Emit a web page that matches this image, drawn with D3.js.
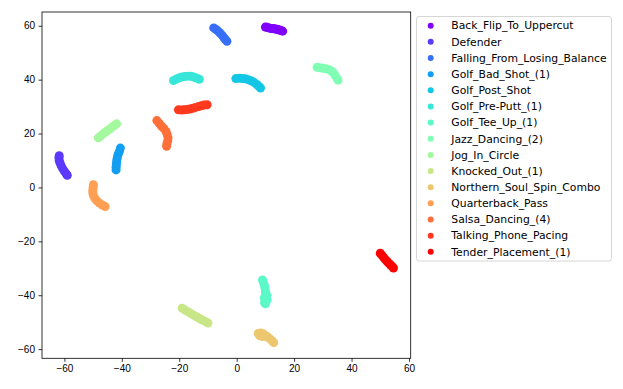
<!doctype html>
<html>
<head>
<meta charset="utf-8">
<script src="https://cdnjs.cloudflare.com/ajax/libs/d3/7.8.5/d3.min.js"></script>
<style>
  body { margin: 0; background: #fff; }
  svg { font-family: "DejaVu Sans", sans-serif; }
  .axis text { font-size: 10px; fill: #000; }
  .axis path, .axis line { stroke: #000; stroke-width: 0.8; }
  .legend text { font-size: 10.8px; fill: #000; }
</style>
</head>
<body>
<svg width="623" height="389"></svg>
<script>
// categories, in legend order
var categories = [
  "Back_Flip_To_Uppercut", "Defender", "Falling_From_Losing_Balance",
  "Golf_Bad_Shot_(1)", "Golf_Post_Shot", "Golf_Pre-Putt_(1)", "Golf_Tee_Up_(1)",
  "Jazz_Dancing_(2)", "Jog_In_Circle", "Knocked_Out_(1)", "Northern_Soul_Spin_Combo",
  "Quarterback_Pass", "Salsa_Dancing_(4)", "Talking_Phone_Pacing", "Tender_Placement_(1)"
];

// embedding points [x, y] per category
var backFlip = [[10,59.5],[10.5,59.4],[11,59.3],[11.5,59.1],[12,59],[12.5,59],[13,58.9],[13.5,58.8],[14,58.7],[14.5,58.5],[15,58.4],[15.5,58.2],[16,58]];
var defender = [[-61.8,11.8],[-61.9,11],[-61.8,10],[-61.5,9],[-61.1,8],[-60.6,7],[-60,6],[-59.3,5],[-59,4.5]];
var falling = [[-8,59.2],[-7.3,58.7],[-6.6,58.1],[-5.9,57.4],[-5.2,56.6],[-4.6,55.8],[-4,55],[-3.4,54.2]];
var golfBad = [[-40.5,14.6],[-40.8,13.5],[-41.2,12.5],[-41.5,11.5],[-41.7,10.5],[-41.8,9.5],[-41.9,8.5],[-42,7.5],[-42,6.5]];
var golfPost = [[-0.3,40.4],[1,40.5],[2,40.4],[3,40.3],[4,40],[5,39.6],[6,39],[7,38.2],[7.7,37.5],[8.3,36.9]];
var golfPrePutt = [[-22,39.7],[-21,40.2],[-20,40.7],[-19,41],[-18,41.2],[-17,41.3],[-16,41.3],[-15,41],[-14,40.6],[-13,40.1]];
var golfTeeUp = [[9,-34.3],[9.3,-35.3],[9.7,-36.5],[9.9,-37.5],[10,-38.5],[10.1,-39.5],[10.2,-40.5],[10.2,-41.5],[10.1,-42.5],[10,-43.2],[10.5,-40],[9.6,-41],[10.6,-41.8],[9.7,-42.8]];
var jazz = [[28,44.6],[29,44.4],[30,44.2],[31,44],[32,43.8],[33,43.2],[33.7,42.5],[34.3,41.5],[34.9,40.5],[35.3,39.8]];
var jog = [[-48.2,18.4],[-47.4,19.1],[-46.6,19.8],[-45.8,20.5],[-45,21.1],[-44.2,21.7],[-43.4,22.4],[-42.6,23],[-41.8,23.6]];
var knocked = [[-19,-44.8],[-18,-45.5],[-17,-46.1],[-16,-46.8],[-15,-47.4],[-14,-48],[-13,-48.6],[-12,-49.2],[-11,-49.7],[-10,-50.3]];
var northern = [[7.5,-54.2],[8.3,-54],[9.2,-54.3],[8,-55],[9,-55.3],[10,-54.9],[10.8,-55.5],[11.6,-56.2],[12.3,-56.9],[12.9,-57.6]];
var quarterback = [[-49.9,1],[-50,0],[-50.1,-1],[-50.1,-2],[-49.9,-3],[-49.4,-4],[-48.7,-5],[-47.8,-5.8],[-46.8,-6.5],[-45.8,-7.1]];
var salsa = [[-27.8,24.8],[-27,23.8],[-26.2,22.8],[-25.4,21.9],[-24.6,20.8],[-24.2,19.6],[-23.9,18.4],[-24,17.3],[-24.3,16.2],[-24.4,15.3]];
var talking = [[-20.3,28.8],[-19.3,28.7],[-18.3,28.8],[-17.3,28.9],[-16.3,29.1],[-15.3,29.4],[-14.3,29.7],[-13.3,30],[-12.3,30.3],[-11.3,30.6],[-10.3,30.7]];
var tender = [[50,-24.4],[50.6,-25.2],[51.2,-26],[51.8,-26.8],[52.4,-27.5],[53,-28.2],[53.6,-28.8],[54.2,-29.4],[54.6,-29.9]];

var series = [backFlip, defender, falling, golfBad, golfPost, golfPrePutt, golfTeeUp,
  jazz, jog, knocked, northern, quarterback, salsa, talking, tender];

var xTicks = [-60, -40, -20, 0, 20, 40, 60];
var yTicks = [-60, -40, -20, 0, 20, 40, 60];

// matplotlib "rainbow" colormap
function rainbow(t) {
  var r = Math.min(1, Math.abs(2 * t - 0.5));
  var g = Math.sin(Math.PI * t);
  var b = Math.cos(Math.PI * t / 2);
  return d3.rgb(r * 255, g * 255, b * 255).toString();
}
function color(i) { return rainbow(i / (categories.length - 1)); }

var svg = d3.select("svg");
var plot = { left: 42, right: 410.7, top: 12, bottom: 358.3 };

var x = d3.scaleLinear().domain([-67.8, 60.6]).range([plot.left, plot.right]);
var y = d3.scaleLinear().domain([-63.4, 65.1]).range([plot.bottom, plot.top]);

// points
series.forEach(function (pts, i) {
  svg.append("g").selectAll("circle").data(pts).enter()
    .append("circle")
    .attr("cx", function (d) { return x(d[0]); })
    .attr("cy", function (d) { return y(d[1]); })
    .attr("r", 4.5)
    .attr("fill", color(i));
});

// frame
svg.append("rect")
  .attr("x", plot.left).attr("y", plot.top)
  .attr("width", plot.right - plot.left).attr("height", plot.bottom - plot.top)
  .attr("fill", "none").attr("stroke", "#000").attr("stroke-width", 0.8);

svg.append("g").attr("class", "axis")
  .attr("transform", "translate(0," + plot.bottom + ")")
  .call(d3.axisBottom(x).tickValues(xTicks).tickSize(3.5).tickPadding(3.5).tickSizeOuter(0))
  .select(".domain").remove();

svg.append("g").attr("class", "axis")
  .attr("transform", "translate(" + plot.left + ",0)")
  .call(d3.axisLeft(y).tickValues(yTicks).tickSize(3.5).tickPadding(3.5).tickSizeOuter(0))
  .select(".domain").remove();

// legend
var legend = svg.append("g").attr("class", "legend");
legend.append("rect")
  .attr("x", 416.5).attr("y", 16.5)
  .attr("width", 195).attr("height", 244.5)
  .attr("rx", 2.5)
  .attr("fill", "#fff").attr("fill-opacity", 0.8)
  .attr("stroke", "#d6d6d6").attr("stroke-width", 1);

var rows = legend.selectAll("g.row").data(categories).enter()
  .append("g").attr("class", "row")
  .attr("transform", function (d, i) { return "translate(0," + (25.7 + i * 16.15) + ")"; });
rows.append("circle").attr("cx", 430.7).attr("cy", 0).attr("r", 3)
  .attr("fill", function (d, i) { return color(i); });
rows.append("text").attr("x", 451.3).attr("y", 0).attr("dy", "0.35em")
  .text(function (d) { return d; });
</script>
</body>
</html>
